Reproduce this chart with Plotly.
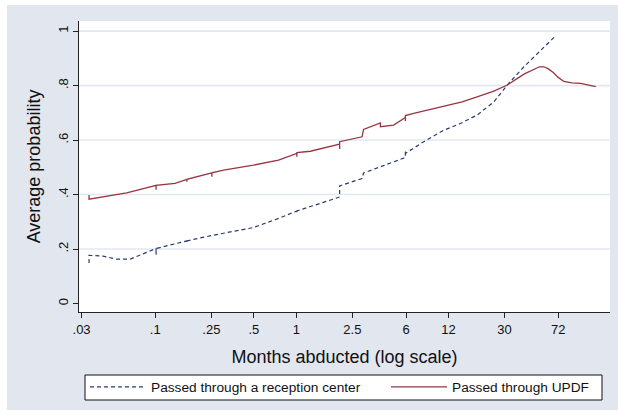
import plotly.graph_objects as go

# ---------------- data ----------------
x_tick_vals = [0.03, 0.1, 0.25, 0.5, 1, 2.5, 6, 12, 30, 72]
x_tick_text = [".03", ".1", ".25", ".5", "1", "2.5", "6", "12", "30", "72"]
y_tick_vals = [0, 0.2, 0.4, 0.6, 0.8, 1]
y_tick_text = ["0", ".2", ".4", ".6", ".8", "1"]
y_grid_vals = [0.2, 0.4, 0.6, 0.8, 1]

reception_months = [0.0339, 0.0339, 0.0426, 0.0533, 0.0662, 0.1013, 0.1013, 0.1013,
                    0.1675, 0.1675, 0.1675, 0.252, 0.497, 0.77, 1.01, 1.01, 1.01,
                    1.26, 1.74, 2.03, 2.03, 2.03, 2.93, 3.0, 3.95, 5.05, 5.94, 5.94,
                    5.94, 8.02, 11.12, 14.61, 19.2, 25.2, 31.36, 41.15, 54.1, 68.0]
reception_prob = [0.149, 0.177, 0.174, 0.163, 0.163, 0.202, 0.178, 0.202,
                  0.230, 0.222, 0.230, 0.250, 0.279, 0.315, 0.340, 0.330, 0.340,
                  0.356, 0.379, 0.391, 0.432, 0.432, 0.459, 0.479, 0.502, 0.520, 0.536, 0.563,
                  0.551, 0.594, 0.636, 0.661, 0.692, 0.740, 0.802, 0.869, 0.930, 0.979]

updf_months = [0.0339, 0.0339, 0.0627, 0.1013, 0.1013, 0.1013, 0.138, 0.1675, 0.1675,
               0.1675, 0.252, 0.252, 0.252, 0.305, 0.497, 0.748, 1.01, 1.01, 1.01,
               1.26, 1.74, 2.03, 2.03, 2.03, 2.93, 3.0, 3.95, 3.95, 4.9, 5.94, 5.94,
               5.94, 6.8, 8.95, 11.76, 15.0, 18.7, 25.2, 31.4, 41.2, 53.0, 57.1, 61.0,
               66.5, 72.0, 79.0, 90.0, 104.0, 133.0]
updf_prob = [0.398, 0.383, 0.406, 0.434, 0.418, 0.434, 0.441, 0.456, 0.447,
             0.456, 0.480, 0.465, 0.480, 0.490, 0.508, 0.526, 0.551, 0.539, 0.554,
             0.559, 0.575, 0.585, 0.567, 0.594, 0.612, 0.639, 0.663, 0.649, 0.655, 0.683, 0.670,
             0.690, 0.698, 0.713, 0.726, 0.740, 0.757, 0.780, 0.802, 0.842, 0.869, 0.869, 0.862,
             0.848, 0.830, 0.815, 0.810, 0.808, 0.796]

series_names = ["Passed through a reception center", "Passed through UPDF"]

# ---------------- styling ----------------
W, H = 618, 414
L, R, T, B = 79, 8, 21, 102
PW, PH = W - L - R, H - T - B
FONT = "Arial, Liberation Sans, sans-serif"
BG_GRAY = "#e1e6ef"
GRID = "#e2e7f0"
BLUE = "#2a3c6e"
RED = "#983540"


def px_x(p):
    return (p - L) / PW


def px_y(p):
    return (H - B - p) / PH


fig = go.Figure()
fig.add_trace(go.Scatter(x=reception_months, y=reception_prob, mode="lines",
                         name=series_names[0], legend="legend", showlegend=True,
                         line=dict(color=BLUE, width=1.2, dash="4px,3px")))
fig.add_trace(go.Scatter(x=updf_months, y=updf_prob, mode="lines",
                         name=series_names[1], legend="legend2", showlegend=True,
                         line=dict(color=RED, width=1.3)))

shapes = [
    dict(type="rect", xref="paper", yref="paper", layer="below",
         x0=px_x(7), x1=px_x(W), y0=px_y(410), y1=px_y(5),
         fillcolor=BG_GRAY, line=dict(width=0)),
    dict(type="rect", xref="paper", yref="paper", layer="below",
         x0=0, x1=1, y0=0, y1=1, fillcolor="white", line=dict(width=0)),
    dict(type="rect", xref="paper", yref="paper", layer="below",
         x0=px_x(85), x1=px_x(602), y0=px_y(400), y1=px_y(375),
         fillcolor="white", line=dict(color="#111111", width=1)),
]
for g in y_grid_vals:
    shapes.append(dict(type="line", xref="paper", yref="y", layer="below",
                       x0=0, x1=1, y0=g, y1=g, line=dict(color=GRID, width=1.6)))

legend_common = dict(orientation="h", yanchor="middle", xanchor="left",
                     xref="container", yref="container",
                     bgcolor="rgba(0,0,0,0)", borderwidth=0, itemwidth=56,
                     font=dict(family=FONT, size=13.7, color="#111111"))

fig.update_layout(
    width=W, height=H,
    showlegend=True,
    margin=dict(l=L, r=R, t=T, b=B, pad=0, autoexpand=False),
    paper_bgcolor="white", plot_bgcolor="white",
    font=dict(family=FONT, color="#111111"),
    shapes=shapes,
    legend=dict(x=85 / W, y=1 - 387 / H, **legend_common),
    legend2=dict(x=386 / W, y=1 - 387 / H, **legend_common),
    xaxis=dict(type="log", range=[-1.541, 2.225],
               tickvals=x_tick_vals, ticktext=x_tick_text,
               ticks="outside", ticklen=5, tickwidth=1, tickcolor="#222222",
               showline=True, linecolor="#222222", linewidth=1.2,
               showgrid=False, zeroline=False,
               tickfont=dict(family=FONT, size=13, color="#111111"),
               title=dict(text="Months abducted (log scale)", standoff=14,
                          font=dict(family=FONT, size=18, color="#111111"))),
    yaxis=dict(range=[-0.031, 1.037],
               tickvals=y_tick_vals, ticktext=y_tick_text, tickangle=-90,
               ticks="outside", ticklen=5, tickwidth=1, tickcolor="#222222",
               showline=True, linecolor="#222222", linewidth=1.2,
               showgrid=False, zeroline=False,
               tickfont=dict(family=FONT, size=13, color="#111111"),
               title=dict(text="Average probability", standoff=10,
                          font=dict(family=FONT, size=18, color="#111111"))),
)

fig.write_html("out.html", config={"displayModeBar": False},
               post_script="document.body.style.margin='0';")
